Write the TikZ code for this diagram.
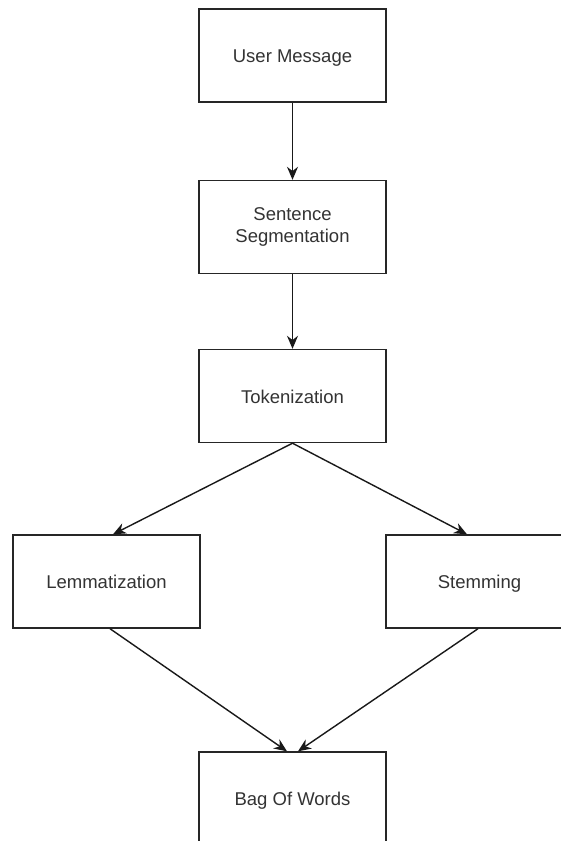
\documentclass[tikz,border=0pt]{standalone}
\usepackage{fontspec}
\setmainfont{Liberation Sans}
\usetikzlibrary{arrows.meta}
\definecolor{txt}{HTML}{333333}
\tikzset{
  box/.style={draw=black!85, line width=1.4pt, fill=white, minimum width=187pt, minimum height=93pt,
    inner sep=0pt, align=center, text=txt,
    font=\fontsize{18.5pt}{22pt}\selectfont},
  onebox/.style={box, text height=16.5pt, text depth=2pt},
  conn/.style={draw=black!90, line width=1.4pt, -{Stealth[length=13pt,width=11pt]}}
}
\begin{document}
\begin{tikzpicture}[x=1pt,y=-1pt]
\clip (0,0) rectangle (561,841);
\fill[white] (0,0) rectangle (561,841);
\node[onebox] (um) at (292.5,55.5) {User Message};
\node[box] (ss) at (292.5,227) {Sentence\\Segmentation};
\node[onebox] (tk) at (292.5,396) {Tokenization};
\node[onebox] (lm) at (106.5,581.5) {Lemmatization};
\node[onebox] (st) at (479.5,581.5) {Stemming};
\node[onebox] (bw) at (292.5,798.5) {Bag Of Words};
\draw[conn] (um.south) -- (ss.north);
\draw[conn] (ss.south) -- (tk.north);
\draw[conn] (tk.south) -- ([xshift=6.5pt]lm.north);
\draw[conn] (tk.south) -- ([xshift=-12.5pt]st.north);
\draw[conn] ([xshift=3.5pt]lm.south) -- ([xshift=-5.5pt]bw.north);
\draw[conn] ([xshift=-1.5pt]st.south) -- ([xshift=5.5pt]bw.north);
\end{tikzpicture}
\end{document}
